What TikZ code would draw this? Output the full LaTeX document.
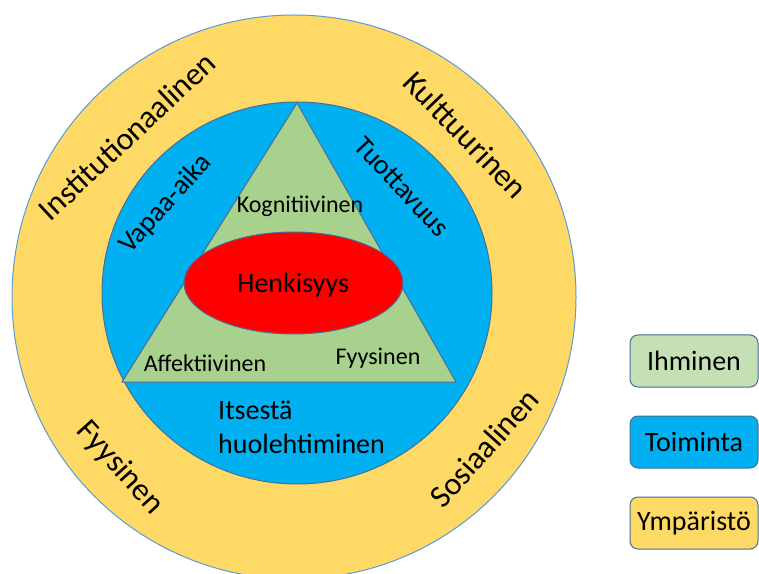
\documentclass[tikz,border=0pt]{standalone}
\usepackage{fontspec}
\setmainfont{Carlito}
\usetikzlibrary{positioning}
\definecolor{ringyellow}{RGB}{255,217,102}
\definecolor{ringblue}{RGB}{0,176,240}
\definecolor{trigreen}{RGB}{169,209,142}
\definecolor{legendgreen}{RGB}{197,224,180}
\definecolor{edgeblue}{RGB}{70,110,150}
\definecolor{outerline}{RGB}{91,155,213}
\newcommand{\fs}[2]{\fontsize{#1}{#2}\selectfont}
\begin{document}
\begin{tikzpicture}[line cap=round,line join=round, x=1pt,y=1pt,
  outerlbl/.style={inner sep=0pt, font=\fs{32}{38}},
  innerlbl/.style={inner sep=0pt, font=\fs{28}{34}},
  trilbl/.style={inner sep=0pt, anchor=base, font=\fs{24}{29}},
  legendbox/.style={draw=edgeblue, line width=1pt, rounded corners=8pt,
    minimum width=128pt, minimum height=52pt, inner sep=2pt, font=\fs{28}{34}}]
\clip(0,0) rectangle (759,573);
% rings
\draw [line width=1pt, color=outerline, fill=ringyellow] (294,276) circle (282);
\draw [line width=1pt, color=edgeblue, fill=ringblue] (297,280) ellipse (195 and 191);
\draw [line width=1pt, color=edgeblue, fill=trigreen] (297,470) -- (122,191) -- (456,191) -- cycle;
\draw [line width=1pt, color=edgeblue, fill=red] (293.5,290) ellipse (109.5 and 51);
% labels in the triangle
\node [trilbl, font=\fs{28}{34}] (henkisyys) at (293,280) {Henkisyys};
\node [trilbl] (kognitiivinen) at (300,360) {Kognitiivinen};
\node [trilbl] (affektiivinen) at (205,202) {Affektiivinen};
\node [trilbl] (fyysinenI) at (378,209) {Fyysinen};
% blue ring
\node [innerlbl, rotate=48] (vapaa) at (166,369) {Vapaa-aika};
\node [innerlbl, rotate=-47] (tuottavuus) at (402,386) {Tuottavuus};
\node [innerlbl, anchor=base west, align=left] (itsesta) at (218,120) {Itsestä\\huolehtiminen};
% yellow ring
\node [outerlbl, rotate=43] (instit) at (127,437) {Institutionaalinen};
\node [outerlbl, rotate=-46] (kulttuuri) at (466,438) {Kulttuurinen};
\node [outerlbl, rotate=-48] (fyysinenY) at (120,105) {Fyysinen};
\node [outerlbl, rotate=48] (sosiaali) at (484,125) {Sosiaalinen};
% legend
\node [legendbox, fill=legendgreen] (ihminen) at (694,212) {Ihminen};
\node [legendbox, fill=ringblue, below=28pt of ihminen] (toiminta) {Toiminta};
\node [legendbox, fill=ringyellow, below=28pt of toiminta] (ymparisto) {Ympäristö};
\end{tikzpicture}
\end{document}
